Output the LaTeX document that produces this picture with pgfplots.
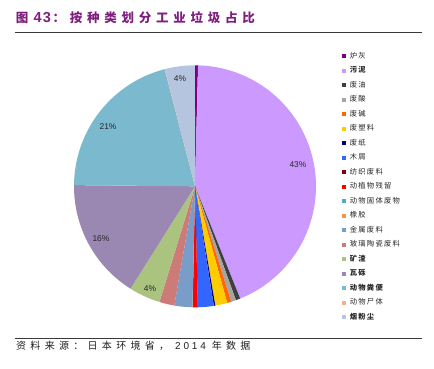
\documentclass[border=0pt]{standalone}
\usepackage{fontspec}
\usepackage{pgfplots}
\usepackage{pgfplotstable}
\pgfplotsset{compat=1.18}
\setmainfont{Liberation Sans}
\newfontfamily\cjktitle{Noto Sans CJK SC}[LetterSpace=38]
\newfontfamily\lattitle{Liberation Sans}[LetterSpace=10]
\newfontfamily\cjkfoot{Noto Sans CJK SC}[LetterSpace=43]
\newfontfamily\latfoot{Liberation Sans}[LetterSpace=28]
\newfontfamily\cjkleg{Noto Sans CJK SC}[LetterSpace=17]

\definecolor{c0}{HTML}{7F007F}
\definecolor{c1}{HTML}{CC99FF}
\definecolor{c2}{HTML}{3F3F3F}
\definecolor{c3}{HTML}{A5A5A5}
\definecolor{c4}{HTML}{FF6600}
\definecolor{c5}{HTML}{FFCC00}
\definecolor{c6}{HTML}{000080}
\definecolor{c7}{HTML}{3366FF}
\definecolor{c8}{HTML}{800000}
\definecolor{c9}{HTML}{FF0000}
\definecolor{c10}{HTML}{4BACC6}
\definecolor{c11}{HTML}{F79646}
\definecolor{c12}{HTML}{7A9CC8}
\definecolor{c13}{HTML}{CD7B79}
\definecolor{c14}{HTML}{AAC37E}
\definecolor{c15}{HTML}{9A88B3}
\definecolor{c16}{HTML}{7AB9CE}
\definecolor{c17}{HTML}{F9AE80}
\definecolor{c18}{HTML}{B5C4DF}
\definecolor{titlecol}{HTML}{7E1F7E}
\definecolor{rulecol}{HTML}{3A3A3A}

% share of industrial waste by type (percent), clockwise from 12 o'clock
\pgfplotstableread{
v
0.4
43.5
0.6
0.65
0.55
1.6
0.2
2.1
0.02
0.67
0.02
0.02
2.4
2.0
4.2
16.2
20.8
0.04
4.0
}\piedata

\pgfmathsetmacro{\total}{0}
\pgfplotsforeachungrouped \i in {0,...,18}{%
  \pgfplotstablegetelem{\i}{v}\of\piedata
  \pgfmathsetmacro{\total}{\total+\pgfplotsretval}%
}
\def\cum{0}
\pgfplotsforeachungrouped \i in {0,...,18}{%
  \pgfplotstablegetelem{\i}{v}\of\piedata
  \pgfmathsetmacro{\sa}{\cum/\total*360}%
  \pgfmathsetmacro{\cum}{\cum+\pgfplotsretval}%
  \pgfmathsetmacro{\sb}{\cum/\total*360}%
  \expandafter\xdef\csname sA\i\endcsname{\sa}%
  \expandafter\xdef\csname sB\i\endcsname{\sb}%
}

\newcommand{\slice}[1]{%
  \addplot[fill=c#1, draw=none, domain=\csname sA#1\endcsname:\csname sB#1\endcsname,
    samples=60, variable=\t] ({sin(\t)},{cos(\t)}) -- (axis cs:0,0) -- cycle;
}

\begin{document}
\begin{tikzpicture}
\path[use as bounding box] (0pt,0pt) rectangle (434pt,-368pt);
% title
\node[anchor=west, inner sep=0pt, text=titlecol]
  at (15.8pt,-18pt) {\cjktitle\bfseries\fontsize{12.5}{14}\selectfont 图\hspace{5pt}\lattitle\bfseries\fontsize{14.5}{14}\selectfont 43\hspace{1.5pt}\cjktitle\bfseries\fontsize{12.5}{14}\selectfont ：按种类划分工业垃圾占比};
\draw[rulecol, line width=1pt] (15pt,-32.3pt) -- (421.5pt,-32.3pt);
\draw[rulecol, line width=1pt] (15pt,-338pt) -- (421.5pt,-338pt);
\node[anchor=west, inner sep=0pt, text=black!88]
  at (16pt,-345.5pt) {\cjkfoot\fontsize{10}{11}\selectfont 资料来源：日本环境省，\hspace{6pt}\latfoot\fontsize{10}{11}\selectfont 2014\hspace{6pt}\cjkfoot\fontsize{10}{11}\selectfont 年数据};

\begin{axis}[
  at={(195pt,-186.3pt)}, anchor=center,
  width=242pt, height=242pt, scale only axis,
  xmin=-1, xmax=1, ymin=-1, ymax=1,
  hide axis, clip=false,
  legend image code/.code={\fill[#1] (0pt,-2.2pt) rectangle (4.3pt,2.1pt);},
  legend style={draw=none, fill=none, inner sep=0pt, outer sep=0pt,
    at={(1.1074,1.0504)}, anchor=north west,
    font=\cjkleg\fontsize{7.3}{8}\selectfont, text=black!85,
    row sep=8.5pt, column sep=3.6pt,
    nodes={inner sep=0pt, text height=5pt, text depth=1pt}},
  legend cell align=left,
]
\slice{0}  \addlegendentry{炉灰}
\slice{1}  \addlegendentry{\bfseries 污泥}
\slice{2}  \addlegendentry{废油}
\slice{3}  \addlegendentry{废酸}
\slice{4}  \addlegendentry{废碱}
\slice{5}  \addlegendentry{废塑料}
\slice{6}  \addlegendentry{废纸}
\slice{7}  \addlegendentry{木屑}
\slice{8}  \addlegendentry{纺织废料}
\slice{9}  \addlegendentry{动植物残留}
\slice{10} \addlegendentry{动物固体废物}
\slice{11} \addlegendentry{橡胶}
\slice{12} \addlegendentry{金属废料}
\slice{13} \addlegendentry{玻璃陶瓷废料}
\slice{14} \addlegendentry{\bfseries 矿渣}
\slice{15} \addlegendentry{\bfseries 瓦砾}
\slice{16} \addlegendentry{\bfseries 动物粪便}
\slice{17} \addlegendentry{动物尸体}
\slice{18} \addlegendentry{\bfseries 烟粉尘}
\begin{scope}[every node/.style={font=\fontsize{8.4}{10}\selectfont, text=black!85, inner sep=0pt}]
\node at (axis cs:0.851,0.182) {43\%};
\node at (axis cs:-0.719,0.496) {21\%};
\node at (axis cs:-0.777,-0.430) {16\%};
\node at (axis cs:-0.372,-0.843) {4\%};
\node at (axis cs:-0.124,0.893) {4\%};
\end{scope}
\end{axis}
\end{tikzpicture}
\end{document}
